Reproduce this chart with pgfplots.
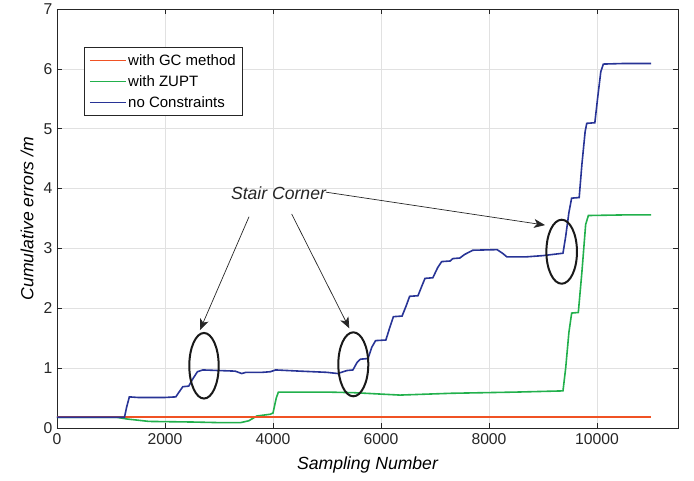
\documentclass[border=0pt]{standalone}
\usepackage{pgfplots}
\pgfplotsset{compat=1.18}
\usepackage{fontspec}
\setmainfont{Liberation Sans}
\usetikzlibrary{arrows.meta}
\definecolor{cRed}{RGB}{240,82,36}
\definecolor{cGreen}{RGB}{34,176,76}
\definecolor{cBlue}{RGB}{40,52,150}
\definecolor{axgray}{RGB}{38,38,38}
\definecolor{gridgray}{RGB}{225,225,225}
\begin{document}
\begin{tikzpicture}
\begin{axis}[
 scale only axis, width=621pt, height=419pt,
 xmin=0, xmax=11500, ymin=0, ymax=7,
 xtick={0,2000,4000,6000,8000,10000}, ytick={0,1,2,3,4,5,6,7},
 scaled x ticks=false,
 /pgf/number format/1000 sep={},
 /pgf/number format/assume math mode=true,
 tick align=inside, major tick length=5pt,
 grid=major, grid style={gridgray, line width=0.7pt},
 axis line style={axgray, line width=0.7pt},
 tick style={axgray, line width=0.7pt},
 ticklabel style={font=\fontsize{15.7}{18}\selectfont, text=axgray},
 xticklabel style={yshift=-2pt},
 yticklabel style={xshift=-1pt},
 xlabel={Sampling Number}, ylabel={Cumulative errors /m},
 label style={font=\fontsize{17.6}{20}\selectfont\itshape, text=black},
 xlabel style={at={(axis description cs:0.5,0)}, anchor=center, yshift=-37pt},
 ylabel style={at={(axis description cs:-0.0483,0.5)}, anchor=center},
 legend style={at={(axis description cs:0.0435,0.909)}, anchor=north west, draw=axgray, line width=0.6pt, fill=white, font=\fontsize{15}{17}\selectfont, row sep=4.5pt, inner xsep=5pt, inner ysep=5pt},
 legend cell align=left,
 legend image code/.code={\draw[#1] (0pt,0pt) -- (36pt,0pt);},
]
\addlegendimage{cRed, line width=0.9pt}
\addlegendimage{cGreen, line width=0.9pt}
\addlegendimage{cBlue, line width=0.9pt}
\legend{with GC method, with ZUPT, no Constraints}

\addplot[cGreen, line width=1.6pt, forget plot] coordinates {
(0,0.18) (1100,0.18) (1300,0.15) (1700,0.11) (2500,0.10) (3000,0.09) (3400,0.09)
(3550,0.12) (3700,0.20) (3950,0.23) (4000,0.25) (4060,0.50) (4100,0.60)
(5000,0.60) (5500,0.59) (6350,0.55) (7300,0.58) (8500,0.60) (9370,0.62)
(9420,1.00) (9480,1.60) (9531,1.92) (9654,1.93) (9720,2.60) (9790,3.40)
(9840,3.55) (10500,3.56) (11000,3.56)
};
\addplot[cRed, line width=1.6pt, forget plot] coordinates {
(0,0.18) (2000,0.18) (4000,0.18) (6000,0.18) (8000,0.18) (10000,0.18) (11000,0.18)
};
\addplot[cBlue, line width=1.6pt, forget plot] coordinates {
(0,0.18) (1250,0.18) (1290,0.35) (1340,0.52) (1500,0.51) (2000,0.51) (2200,0.52)
(2260,0.60) (2330,0.69) (2440,0.70) (2500,0.80) (2600,0.94) (2700,0.97)
(3000,0.96) (3300,0.95) (3420,0.91) (3500,0.93) (3800,0.93) (3950,0.94)
(4050,0.97) (4500,0.95) (5000,0.93) (5200,0.91) (5300,0.94) (5370,0.96)
(5480,0.97) (5560,1.10) (5620,1.15) (5760,1.16) (5830,1.35) (5900,1.46)
(6090,1.47) (6170,1.70) (6230,1.86) (6390,1.87) (6470,2.05) (6530,2.20)
(6685,2.21) (6760,2.38) (6815,2.50) (6960,2.51) (7050,2.68) (7124,2.78)
(7280,2.79) (7330,2.83) (7460,2.84) (7550,2.90) (7700,2.97) (8150,2.98)
(8250,2.92) (8330,2.86) (8700,2.86) (9000,2.88) (9370,2.92) (9420,3.20)
(9480,3.60) (9530,3.84) (9670,3.85) (9720,4.40) (9780,4.95) (9810,5.09)
(9960,5.10) (10010,5.50) (10070,5.95) (10117,6.08) (10500,6.09) (11000,6.09)
};

\draw[black!90, line width=2pt] (axis cs:2722,1.04) ellipse [x radius=14.7pt, y radius=32.8pt];
\draw[black!90, line width=2pt] (axis cs:5487,1.064) ellipse [x radius=15pt, y radius=32pt];
\draw[black!90, line width=2pt] (axis cs:9346,2.945) ellipse [x radius=15.3pt, y radius=32pt];

\draw[axgray, line width=0.7pt, -{Stealth[length=11pt,width=9pt,inset=3pt]}] (axis cs:3556,3.53) -- (axis cs:2648,1.637);
\draw[axgray, line width=0.7pt, -{Stealth[length=11pt,width=9pt,inset=3pt]}] (axis cs:4346,3.575) -- (axis cs:5413,1.666);
\draw[axgray, line width=0.7pt, -{Stealth[length=11pt,width=9pt,inset=3pt]}] (axis cs:4981,3.94) -- (axis cs:9037,3.39);
\node[font=\fontsize{17.6}{20}\selectfont\itshape, text=axgray] at (axis cs:4102,3.93) {Stair Corner};
\end{axis}
\path (-57pt,-52pt) rectangle (637pt,428pt);
\end{tikzpicture}
\end{document}
